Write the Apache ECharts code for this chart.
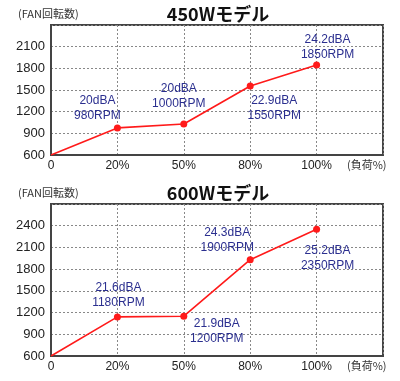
<!DOCTYPE html>
<html><head><meta charset="utf-8">
<script src="https://cdn.jsdelivr.net/npm/echarts@6/dist/echarts.min.js"></script>
<style>html,body{margin:0;padding:0;background:#fff}#c{width:400px;height:381px}</style>
</head><body><div id="c"></div>
<script>
const categories = ['0', '20%', '50%', '80%', '100%', ''];
const yTicks450 = [600, 900, 1200, 1500, 1800, 2100];
const yTicks600 = [600, 900, 1200, 1500, 1800, 2100, 2400];
const title450 = '450Wモデル';
const title600 = '600Wモデル';
const rpm450 = [600, 975, 1030, 1555, 1845];
const rpm600 = [600, 1140, 1150, 1930, 2350];
const labels450 = ['', '20dBA\n980RPM', '20dBA\n1000RPM', '22.9dBA\n1550RPM', '24.2dBA\n1850RPM'];
const labels600 = ['', '21.6dBA\n1180RPM', '21.9dBA\n1200RPM', '24.3dBA\n1900RPM', '25.2dBA\n2350RPM'];
const yName = '(FAN回転数)';
const xName = '(負荷%)';

const off450 = [null, [-20, -20], [-5, -28], [24, 22], [11, -18]];
const off600 = [null, [1, -22], [33, 15], [-23, -20], [11, 29]];

const chart = echarts.init(document.getElementById('c'), null, {renderer: 'canvas'});
const FONT = '"Liberation Sans", Arial, sans-serif';
const CJK = '"Noto Sans CJK JP", sans-serif';

function mkData(vals, labs, offs) {
  return vals.map((v, i) => {
    if (i === 0) return {value: v, symbolSize: 0, label: {show: false}};
    return {value: v, label: {show: true, formatter: labs[i], position: 'inside', offset: offs[i]}};
  });
}
function xAxis(gi) {
  return {
    type: 'category', gridIndex: gi, data: categories, boundaryGap: false,
    axisLine: {show: true, lineStyle: {color: '#444', width: 2}},
    axisTick: {show: false},
    axisLabel: {color: '#222', fontSize: 12, fontFamily: FONT, margin: 5, interval: 0},
    splitLine: {show: true, interval: 0, lineStyle: {color: '#888', type: [2, 2], width: 1}}
  };
}
function yAxis(gi, max, ticks) {
  return {
    type: 'value', gridIndex: gi, min: 600, max: max, interval: 300,
    axisLine: {show: true, lineStyle: {color: '#444', width: 2}},
    axisTick: {show: false},
    axisLabel: {color: '#222', fontSize: 13, fontFamily: FONT, margin: 6,
      formatter: v => (ticks.indexOf(v) >= 0 ? String(v) : '')},
    splitLine: {show: true, lineStyle: {color: '#888', type: [2, 2], width: 1}}
  };
}
function series(gi, vals, labs, offs) {
  return {
    type: 'line', xAxisIndex: gi, yAxisIndex: gi, data: mkData(vals, labs, offs),
    symbol: 'circle', symbolSize: 7, showSymbol: true,
    lineStyle: {color: '#ff1a1a', width: 1.6}, itemStyle: {color: '#ff1a1a'},
    label: {color: '#2b2f8f', fontSize: 12, fontFamily: FONT, lineHeight: 15, align: 'center'},
    animation: false, z: 3
  };
}

chart.setOption({
  animation: false,
  title: [
    {text: title450, left: 213, top: 0, textAlign: 'center',
      textStyle: {fontSize: 18, fontWeight: 'bold', fontFamily: CJK, color: '#111'}},
    {text: title600, left: 213, top: 179, textAlign: 'center',
      textStyle: {fontSize: 18, fontWeight: 'bold', fontFamily: CJK, color: '#111'}}
  ],
  grid: [
    {left: 51, top: 25, width: 332, height: 130, show: true, borderColor: '#444', borderWidth: 2, backgroundColor: 'transparent'},
    {left: 51, top: 204, width: 332, height: 152, show: true, borderColor: '#444', borderWidth: 2, backgroundColor: 'transparent'}
  ],
  xAxis: [xAxis(0), xAxis(1)],
  yAxis: [yAxis(0, 2400, yTicks450), yAxis(1, 2700, yTicks600)],
  series: [series(0, rpm450, labels450, off450), series(1, rpm600, labels600, off600)],
  graphic: [
    {type: 'text', left: 18, top: 8, style: {text: yName, font: '11px ' + CJK, fill: '#333'}},
    {type: 'text', left: 18, top: 187, style: {text: yName, font: '11px ' + CJK, fill: '#333'}},
    {type: 'text', left: 347, top: 159, style: {text: xName, font: '11px ' + CJK, fill: '#333'}},
    {type: 'text', left: 347, top: 360, style: {text: xName, font: '11px ' + CJK, fill: '#333'}}
  ]
});
</script></body></html>
